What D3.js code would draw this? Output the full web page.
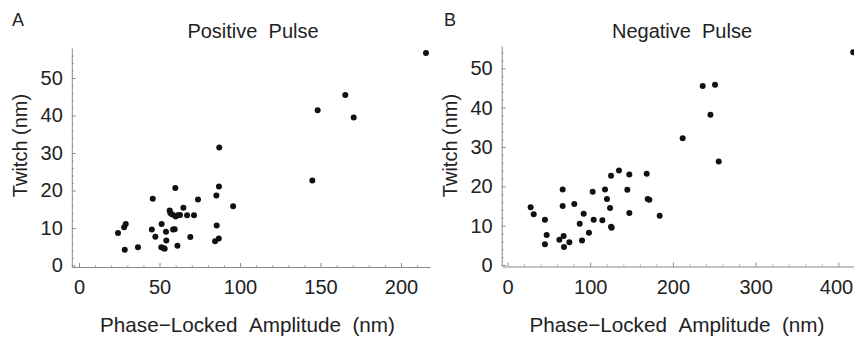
<!DOCTYPE html>
<html>
<head>
<meta charset="utf-8">
<script src="https://cdn.jsdelivr.net/npm/d3@7"></script>
<style>
  body { margin: 0; background: #fff; }
  svg { display: block; }
  svg text { font-family: "Liberation Sans", Arial, sans-serif; white-space: pre; }
</style>
</head>
<body>
<div id="chart"></div>
<script>
// Panel A: positive pulse
const posAmp = [24.2, 28.0, 29.0, 28.4, 36.6, 45.8, 45.2, 47.4, 51.3, 51.1, 52.4, 53.2, 54.0, 54.2,
  58.4, 59.4, 56.3, 56.7, 57.9, 59.8, 60.0, 61.3, 62.7, 61.1, 64.8, 67.1, 69.1, 71.4, 73.9,
  85.3, 86.9, 85.5, 84.5, 86.8, 95.7, 144.9, 87.1, 148.2, 165.4, 170.6, 215.5];
const posTwitch = [8.7, 10.2, 11.1, 4.2, 4.9, 17.8, 9.6, 7.7, 11.1, 4.9, 4.7, 4.5, 9.0, 6.7,
  9.6, 9.7, 14.7, 14.0, 13.6, 20.7, 13.1, 13.4, 13.5, 5.3, 15.4, 13.4, 7.6, 13.4, 17.6,
  18.7, 21.1, 10.7, 6.5, 7.2, 15.8, 22.7, 31.5, 41.4, 45.5, 39.5, 56.7];

// Panel B: negative pulse
const negAmp = [28.0, 31.7, 45.3, 47.4, 45.3, 62.7, 66.7, 66.7, 67.9, 68.3, 74.8, 80.8, 87.3,
  90.1, 92.1, 98.5, 103.0, 104.2, 114.7, 117.9, 120.3, 124.0, 125.2, 125.2, 126.0, 134.8,
  147.3, 144.9, 147.3, 168.3, 169.5, 171.5, 184.0, 255.4, 211.8, 236.0, 250.9, 245.4, 418];
const negTwitch = [14.7, 12.9, 11.5, 7.6, 5.3, 6.4, 19.2, 15.0, 7.4, 4.6, 5.8, 15.5, 10.5,
  6.2, 13.0, 8.2, 18.6, 11.5, 11.4, 19.2, 16.8, 14.5, 22.7, 9.7, 9.5, 24.0,
  23.0, 19.1, 13.2, 23.2, 16.8, 16.6, 12.5, 26.3, 32.2, 45.5, 45.8, 38.2, 54.1];

const posXTicks = [0, 50, 100, 150, 200];
const posXMinor = d3.range(10, 220, 10).filter(v => v % 50 !== 0);
const negXTicks = [0, 100, 200, 300, 400];
const negXMinor = d3.range(20, 420, 20).filter(v => v % 100 !== 0);
const yTicks = [0, 10, 20, 30, 40, 50];
const posYMinor = d3.range(2, 58, 2).filter(v => v % 10 !== 0);
const negYMinor = d3.range(2, 56, 2).filter(v => v % 10 !== 0);

const FONT = "Liberation Sans, Arial, sans-serif";
const TEXT = "#222";

const svg = d3.select("#chart").append("svg")
  .attr("width", 854)
  .attr("height", 337);

function drawPanel(p) {
  const g = svg.append("g");

  const x = d3.scaleLinear().domain(p.xDomain).range(p.xRange);
  const y = d3.scaleLinear().domain(p.yDomain).range(p.yRange);
  const axisColor = "#8a8a8a";
  const xAxisY = y(0) + 1.5;
  const yAxisX = x(p.xDomain[0]);

  // minor ticks
  g.append("g")
    .attr("transform", `translate(0,${xAxisY})`)
    .call(d3.axisBottom(x).tickValues(p.xMinor).tickSize(-2).tickSizeOuter(0).tickFormat(""))
    .call(a => a.select(".domain").remove())
    .call(a => a.selectAll("line").attr("stroke", "#aaa"));

  g.append("g")
    .attr("transform", `translate(${yAxisX},0)`)
    .call(d3.axisLeft(y).tickValues(p.yMinor).tickSize(-2).tickSizeOuter(0).tickFormat(""))
    .call(a => a.select(".domain").remove())
    .call(a => a.selectAll("line").attr("stroke", "#aaa"));

  // major axes
  const xAxis = g.append("g")
    .attr("transform", `translate(0,${xAxisY})`)
    .call(d3.axisBottom(x).tickValues(p.xTicks).tickSize(-4).tickSizeOuter(0).tickPadding(13));

  const yAxis = g.append("g")
    .attr("transform", `translate(${yAxisX},0)`)
    .call(d3.axisLeft(y).tickValues(yTicks).tickSize(-4).tickSizeOuter(0).tickPadding(9));

  [xAxis, yAxis].forEach(a => {
    a.attr("font-family", FONT).attr("font-size", 20);
    a.select(".domain").attr("stroke", axisColor);
    a.selectAll(".tick line").attr("stroke", axisColor);
    a.selectAll(".tick text").attr("fill", TEXT);
  });

  // keep the last x label inside the page edge
  xAxis.selectAll(".tick text")
    .filter(d => x(d) + 17 > 854)
    .attr("dx", d => 853 - (x(d) + 17));

  // points
  g.selectAll("circle")
    .data(p.amp.map((a, i) => [a, p.twitch[i]]))
    .join("circle")
    .attr("cx", d => x(d[0]))
    .attr("cy", d => y(d[1]))
    .attr("r", 3)
    .attr("fill", "#111");

  // panel letter and title
  g.append("text")
    .attr("x", p.letterX)
    .attr("y", 26)
    .attr("fill", TEXT)
    .attr("font-size", 18)
    .text(p.letter);

  g.append("text")
    .attr("x", p.titleX)
    .attr("y", 38)
    .attr("text-anchor", "middle")
    .attr("fill", TEXT)
    .attr("font-size", 20)
    .text(p.title);

  g.append("text")
    .attr("transform", `translate(${p.yLabelX},145.5) rotate(-90)`)
    .attr("text-anchor", "middle")
    .attr("fill", TEXT)
    .attr("font-size", 20)
    .text("Twitch (nm)");

  g.append("text")
    .attr("x", p.xLabelX)
    .attr("y", 331.5)
    .attr("text-anchor", "middle")
    .attr("fill", TEXT)
    .attr("font-size", 20.7)
    .text("Phase\u2212Locked\u00a0\u00a0Amplitude\u00a0\u00a0(nm)");
}

drawPanel({
  amp: posAmp, twitch: posTwitch,
  xDomain: [-4.5, 218], xRange: [71.8, 430],
  yDomain: [-0.4, 58], yRange: [267, 48],
  xTicks: posXTicks, xMinor: posXMinor, yMinor: posYMinor,
  letter: "A", letterX: 12, title: "Positive\u00a0\u00a0Pulse", titleX: 253,
  yLabelX: 26.7, xLabelX: 247.5
});

drawPanel({
  amp: negAmp, twitch: negTwitch,
  xDomain: [-7, 421], xRange: [501.7, 855.7],
  yDomain: [-0.1, 55.7], yRange: [265.4, 45.9],
  xTicks: negXTicks, xMinor: negXMinor, yMinor: negYMinor,
  letter: "B", letterX: 444, title: "Negative\u00a0\u00a0Pulse", titleX: 682,
  yLabelX: 457, xLabelX: 677
});
</script>
</body>
</html>
